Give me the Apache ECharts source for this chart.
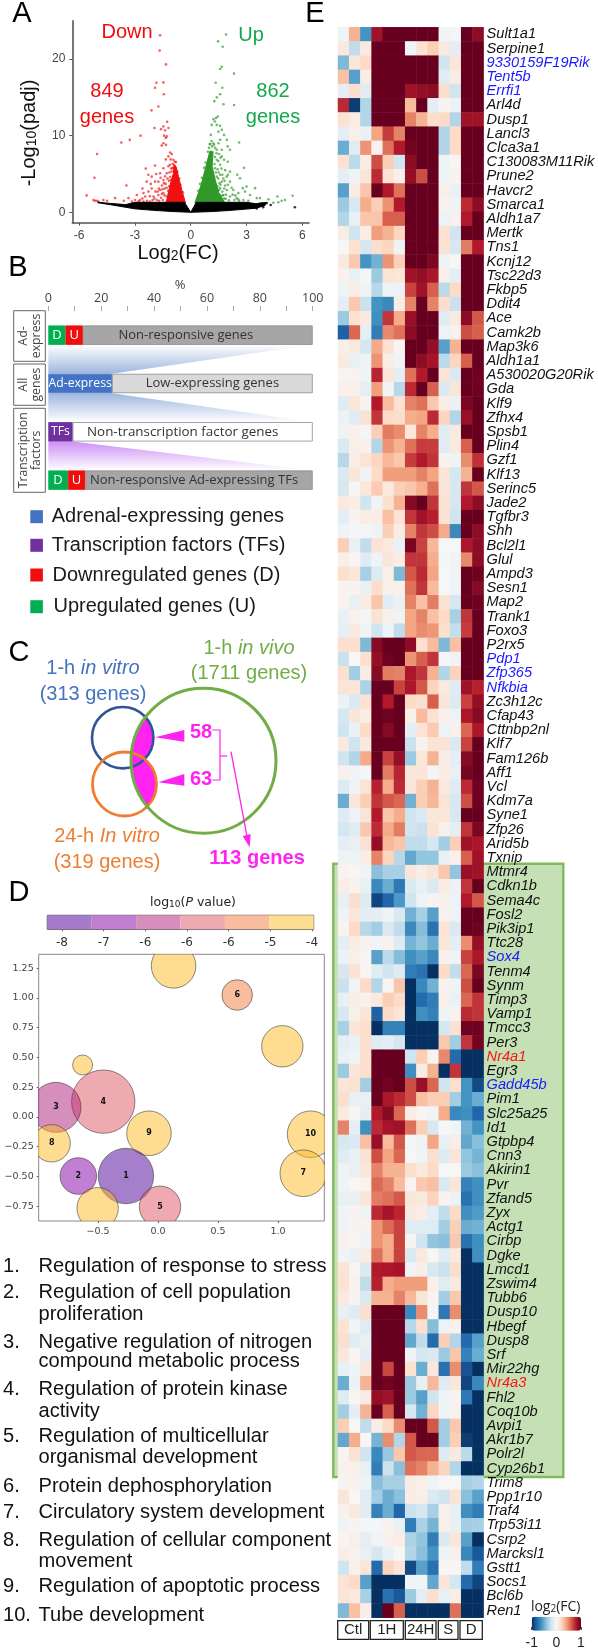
<!DOCTYPE html>
<html><head><meta charset="utf-8">
<style>html,body{margin:0;padding:0;background:#fff}#c{width:598px;height:1650px}</style>
<script src="https://cdn.jsdelivr.net/npm/echarts@6/dist/echarts.min.js"></script></head>
<body><div id="c"></div>
<script>
/* ---------- Panel A values ---------- */
const volRed=[[-1.65,23.1],[-1.67,21.1],[-1.33,19.3],[-1.47,16.95],[-1.85,16.9],[-1.92,16.25],[-1.45,15.4],[-1.74,13.8],[-2.11,13.3],[-1.27,11.8],[-1.95,11],[-1.47,11.2],[-1.6,10.85],[-1.38,10.7],[-1.2,11],[-1.43,10],[-1.29,9.9],[-1.34,9.7],[-2.7,10],[-3.28,9.45],[-3.73,9.1],[-1.47,9],[-1.33,8.8],[-1.56,8.7],[-5.04,7.6],[-5.18,4.5],[-5.6,2.2],[-3.46,3.5],[-2.42,5.7],[-1.92,6.1],[-1.86,5],[-1.11,7.8],[-1.02,7.6],[-1.2,7.3],[-1.08,6.9],[-.93,6.85],[-1.34,6.9],[-.97,6.3],[-1.2,6],[-1.47,5.75],[-1.65,5.1],[-1.29,5.1],[-2.1,4.65],[-2.28,4.9],[-1.92,4],[-2.37,4],[-1.74,4],[-1.47,4.2],[-2.1,3.1],[-1.65,2.9],[-2.28,2.7],[-2.54,2.5],[-2.9,2.25],[-2.72,1.6],[-2.45,2.05],[-2,2.05],[-1.74,2.25],[-1.47,2.5],[-1.29,2.05],[-3.35,1.85],[-3.17,1.4],[-4.07,1.85],[-4.7,1.6],[-4.5,1.5],[-5.23,1.6],[-5.15,1.5],[-5.05,1.5],[-4.96,1.4],[-1.83,1.6],[-2.19,1.4],[-3,1.6],[-2.54,1.4],[-1.4,3.1],[-1.55,3.5],[-1.35,3.7],[-1.25,4.4],[-1.15,5.2],[-1.1,4.6],[-1.6,1.9],[-1.9,2.7],[-1.55,2.4],[-2.2,2.1],[-1.38,4.7],[-1.12,6.2],[-1.05,5.7],[-1.72,3.1],[-2.6,1.8],[-3.6,1.5],[-2.05,1.6],[-1.03,5.3],[-1.18,4.1],[-1.3,3.2],[-1.41,2.2],[-1.22,2.8],[-1.16,3.4],[-1.08,4.2],[-.98,5.8],[-.86,6.6],[-.79,6.55],[-.72,5.3],[-.62,4.4],[-.55,3.6],[-.42,2.6],[-1.5,1.6],[-1.7,1.5],[-1.95,1.8],[-2.35,1.5],[-2.8,1.45],[-1.78,2.7],[-2.15,3.7],[-2.6,3.1],[-1.62,4.5],[-1.52,3],[-1.44,3.8]];
const volGreen=[[1.9,23.2],[1.47,22.3],[1.72,21.6],[1.67,19],[1.58,18.7],[2.33,18.1],[1.34,16.9],[1.7,16.25],[1.58,15.4],[1.4,15],[1.27,14.5],[1.76,14.1],[2.33,14],[1.45,12.5],[1.36,12.3],[1.22,12.15],[1.3,11.85],[1.13,11.4],[1.4,11.4],[1.58,11.3],[1.08,10.1],[1.67,10.75],[1.49,10.5],[1.79,10.1],[2.6,9.1],[1.94,9.45],[1.58,9.45],[2.11,8.15],[1.99,8.6],[2.87,5.8],[1.79,6.85],[1.99,6.6],[1.49,9],[1.22,9],[1.4,8.15],[1.67,8.15],[1.67,7.3],[1.4,6.85],[1.58,6.2],[1.85,5.5],[2.11,5.3],[2.5,4.9],[1.31,5.75],[1.58,4.9],[1.94,4.65],[1.4,4.65],[1.67,4],[2.11,4],[2.65,4.45],[3,3.35],[3.46,3.15],[2.8,3.15],[1.94,2.9],[1.58,3.15],[2.29,2.9],[2.56,2.5],[2.92,2.7],[3.19,2.25],[1.76,2.25],[2.11,2.05],[2.47,1.85],[1.22,2.5],[1.4,2.05],[1.58,1.6],[2.83,1.6],[3.55,1.85],[3.73,1.85],[4.18,1.7],[4.66,2.05],[5.48,2.15],[5.07,1.6],[4.89,1.5],[4.71,1.3],[4.44,1.25],[1.52,7.6],[1.3,7.2],[1.12,9.3],[1.05,8.9],[1.45,5.6],[1.75,4.4],[1.85,3.5],[2,3.6],[2.2,3.2],[2.4,2.2],[1.8,1.8],[2.05,1.55],[2.6,1.5],[3.1,1.5],[1.65,5.7],[1.55,3.8],[1.8,3.1],[2.35,1.6],[1.7,2.7],[1.48,6.7],[1.6,7.1],[1.28,6.3],[1.35,5.2],[1.48,4.4],[1.6,3.6],[1.72,2.2],[1.88,1.75],[1.25,8.8],[1.15,8.6],[1.32,8.4],[1.38,7.7],[.92,7.9],[.98,8.4],[1.02,8.9],[.8,6.5],[.72,5.8],[.6,4.5],[.5,3.7],[.4,2.8],[1.9,2.3],[2.25,2.3],[2.55,1.7],[1.6,2.2],[1.52,2.9],[1.44,3.4],[1.7,4.9],[1.82,4.1],[2,4.9],[1.5,5.2]];
const volBlack=[[5.6,.65],[3.9,.65],[3.55,.5],[4.09,1.2],[3.73,1.1],[3.3,.6],[4.3,.95],[3.85,1.15],[3.35,.95]];
const volPolygons=[
 {color:'#f01010',pts:[[-.28,1.2],[-.48,2.9],[-.66,4.66],[-.78,5.9],[-.9,6.3],[-.93,5.1],[-1.11,3.57],[-1.29,1.6],[-1.36,1.2]]},
 {color:'#2f9a2a',pts:[[.22,1.2],[.55,3.5],[.85,6.3],[1.03,8.0],[1.2,7.9],[1.15,6],[1.32,4.2],[1.5,2.6],[1.85,1.2]]},
 {color:'#000000',pts:[[-5,1.32],[-4.3,1.15],[-3.5,1.0],[-3,1.3],[-1.2,1.3],[-.34,1.3],[0,0],[.3,1.3],[3,1.3],[3.5,1.12],[4.05,1.28],[4,.9],[3.5,.52],[3,.42],[2,.22],[1,.08],[0,0],[-1,.1],[-2,.25],[-3,.45],[-4.3,.98],[-5,1.25]]}
];
const volTicksX=[-6,-3,0,3,6], volTicksY=[0,10,20];
/* ---------- Panel B values ---------- */
const bRows=['Ad-express','All genes','Transcription factors','TF response'];
const bSegRow=[0,0,0,1,1,2,2,3,3,3];
const bSegValue=[6.5,6.6,86.9,24.1,75.9,9.2,90.8,7.4,6.6,86];
const bSegLabel=['D','U','Non-responsive genes','Ad-express','Low-expressing genes','TFs','Non-transcription factor genes','D','U','Non-responsive Ad-expressing TFs'];
const bWedges=[{from:0,to:1,topEnd:100,botEnd:24.1},{from:1,to:2,topEnd:24.1,botEnd:100},{from:2,to:3,topEnd:9.2,botEnd:100}];
/* ---------- Panel D values ---------- */
const bubbleX=[.13,.66,1.036,-.628,-.456,-.85,-.886,-.075,-.267,-.664,.017,-.503,1.272,1.211];
const bubbleY=[1.27,1.025,.594,.437,.129,.081,-.221,-.137,-.496,-.496,-.754,-.767,-.145,-.473];
const bubbleR=[22.3,15.3,20.7,10,31.7,25,18.7,22.3,27.7,18.3,20.7,20.7,23.3,23.3];
const bubbleBand=[5,4,5,5,3,2,5,5,0,1,3,5,5,5];
const bubbleNum=['','6','','','4','3','8','9','1','2','5','','10','7'];
const pTickLabels=['-8','-7','-6','-6','-6','-5','-4'];
const pBands=[0,1,2,3,4,5];
const goTerms=[['1.','Regulation of response to stress',140],['2.','Regulation of cell population',218],['','proliferation',283],['3.','Negative regulation of nitrogen',368],['','compound metabolic process',425],['4.','Regulation of protein kinase',508],['','activity',573],['5.','Regulation of multicellular',650],['','organismal development',713],['6.','Protein dephosphorylation',798],['7.','Circulatory system development',877],['8.','Regulation of cellular component',960],['','movement',1023],['9.','Regulation of apoptotic process',1100],['10.','Tube development',1185]];
/* ---------- Panel E values ---------- */
const heatColumns=['C1','C2','C3','1H1','1H2','1H3','24H1','24H2','24H3','S1','S2','D1','D2'];
const heatGenes=['Sult1a1','Serpine1','9330159F19Rik','Tent5b','Errfi1','Arl4d','Dusp1','Lancl3','Clca3a1','C130083M11Rik','Prune2','Havcr2','Smarca1','Aldh1a7','Mertk','Tns1','Kcnj12','Tsc22d3','Fkbp5','Ddit4','Ace','Camk2b','Map3k6','Aldh1a1','A530020G20Rik','Gda','Klf9','Zfhx4','Spsb1','Plin4','Gzf1','Klf13','Serinc5','Jade2','Tgfbr3','Shh','Bcl2l1','Glul','Ampd3','Sesn1','Map2','Trank1','Foxo3','P2rx5','Pdp1','Zfp365','Nfkbia','Zc3h12c','Cfap43','Cttnbp2nl','Klf7','Fam126b','Aff1','Vcl','Kdm7a','Syne1','Zfp26','Arid5b','Txnip','Mtmr4','Cdkn1b','Sema4c','Fosl2','Pik3ip1','Ttc28','Sox4','Tenm4','Synm','Timp3','Vamp1','Tmcc3','Per3','Nr4a1','Egr3','Gadd45b','Pim1','Slc25a25','Id1','Gtpbp4','Cnn3','Akirin1','Pvr','Zfand5','Zyx','Actg1','Cirbp','Dgke','Lmcd1','Zswim4','Tubb6','Dusp10','Hbegf','Dusp8','Srf','Mir22hg','Nr4a3','Fhl2','Coq10b','Avpi1','Akr1b7','Polr2l','Cyp26b1','Trim8','Ppp1r10','Traf4','Trp53i11','Csrp2','Marcksl1','Gstt1','Socs1','Bcl6b','Ren1'];
const blueGenes=['9330159F19Rik','Tent5b','Errfi1','Pdp1','Zfp365','Nfkbia','Sox4','Gadd45b'];
const redGenes=['Nr4a1','Nr4a3'];
const heatValues=[
[-.05,.35,-.6,.85,1,1,1,1,1,-.03,-.02,1,.9],
[.1,-.25,.1,1,1,1,-.03,.15,.25,.1,-.1,1,1],
[-.45,.12,.2,1,1,1,1,1,1,-.2,.12,1,1],
[.3,-.55,.08,1,1,1,1,1,1,-.12,.08,1,1],
[-.1,.18,-.12,1,1,1,.85,.88,.9,.18,-.2,1,1],
[.75,-.95,-.3,1,1,1,.32,1,-.1,.03,-.06,1,1],
[.15,.08,-.3,1,1,1,.5,.35,.18,.2,-.3,.85,.85],
[-.1,.06,-.07,.4,.7,.5,1,1,1,-.3,.2,1,1],
[-.5,-.12,.45,.04,.55,.8,.97,1,1,-.3,.2,1,1],
[.15,-.27,.08,.65,.25,-.2,.9,1,1,-.05,.02,1,1],
[-.1,-.05,.13,.75,.15,.05,.88,.65,1,-.05,.03,1,1],
[-.55,.08,.28,1,.8,.55,1,1,1,.06,-.07,1,1],
[-.37,-.17,.37,.25,.45,.8,1,1,1,.04,-.05,.75,.9],
[-.3,-.08,.28,.28,.6,.6,1,1,1,-.06,.04,.8,1],
[.08,-.2,.07,.42,.35,.22,1,1,1,.15,-.2,1,1],
[.01,.15,-.18,.18,.22,-.05,1,1,1,.15,-.17,.52,.8],
[.1,.27,-.6,-.48,.45,.24,1,1,.95,-.05,.02,1,1],
[.04,-.07,-.02,-.37,.14,.12,.85,.88,.82,.06,-.1,1,1],
[-.05,.07,-.05,-.28,-.05,-.06,.68,.85,.6,-.27,.2,1,1],
[-.1,.27,-.22,-.6,-.65,.07,.5,1,.5,.18,-.22,1,1],
[-.37,.15,.1,-.62,.72,.38,.87,1,1,-.12,.1,.9,.62],
[-.82,.58,-.1,-.7,.48,.55,.9,1,1,-.06,.04,.65,.6],
[.06,.1,-.18,.38,.15,.03,1,1,.88,-.55,.35,1,1],
[.1,-.08,-.05,.45,.07,-.03,1,.9,.83,-.27,.22,.6,1],
[.02,.03,-.05,.77,.12,-.1,.55,.8,1,.14,-.15,1,.98],
[.05,.05,-.1,.42,-.03,-.28,.75,1,.6,-.15,.13,1,.98],
[-.12,.12,.03,.8,.32,.15,.5,.55,.27,.07,-.07,.95,1],
[-.06,-.12,.15,.72,.2,.18,.37,.4,.75,.22,-.3,.87,1],
[-.05,.05,-.02,.25,.52,.47,.12,.5,.37,-.12,.1,1,1],
[-.15,.06,.05,-.3,.45,.35,.55,.7,.7,-.12,.1,.6,1],
[-.28,.07,.13,.22,.33,.27,.7,.8,.72,.03,-.05,.47,.73],
[-.15,.13,-.04,.2,.42,.42,.42,.5,.4,.13,-.18,.35,1],
[-.17,.01,.12,.26,.1,.24,.28,.36,.55,.13,-.17,.72,.62],
[.1,.07,-.2,-.04,.16,.35,.92,1,.72,.15,-.18,.8,.9],
[-.1,.03,.07,.07,.3,.14,.72,.85,.78,.15,-.2,1,1],
[-.04,-.02,-.02,-.05,.24,.08,.5,.72,.65,.38,-.65,1,.9],
[.25,-.08,-.25,.15,.1,-.07,.95,.68,.33,-.01,-.01,.82,.9],
[.06,.02,-.12,-.05,.13,.07,.72,.72,.37,-.02,-.04,.48,.9],
[.17,.12,-.33,-.13,.06,-.45,.62,.75,.4,-.01,-.03,1,.98],
[.03,.03,-.07,.18,.06,.05,.55,.72,.32,-.01,-.03,1,.92],
[.03,-.08,.08,.28,-.12,-.07,.5,.3,.52,.15,-.18,1,.98],
[-.07,.04,-.02,.14,.06,-.04,.4,.5,.3,.2,-.33,.72,1],
[-.09,.1,-.04,-.2,-.05,-.25,.4,.47,.44,.16,-.24,.7,1],
[.17,.17,-.45,.92,1,1,.9,.17,.32,-.45,.3,1,1],
[-.22,.01,.17,.88,.98,1,.45,.6,.72,-.02,-.04,1,1],
[.17,-.35,.08,.92,.52,.5,.82,.72,.35,-.3,.23,1,1],
[.14,.13,-.32,1,1,.68,.82,.62,.23,.1,-.12,.85,.78],
[-.06,-.15,.15,1,.8,1,.2,.17,.6,.13,-.14,.68,.88],
[-.18,.13,.07,1,.98,1,.06,.32,.15,.05,-.06,.82,.92],
[-.2,-.07,.2,1,.92,1,-.1,.14,.26,-.06,.04,.58,.82],
[.1,-.2,.1,1,1,1,-.22,.04,.14,.14,-.15,.68,1],
[-.2,-.3,.38,1,.68,.88,-.37,.12,.35,.08,-.1,.92,1],
[.05,-.03,-.02,1,.52,.77,.12,.13,-.02,.08,-.08,.96,1],
[-.14,-.04,.14,.78,.37,.75,.13,.25,.35,.1,-.12,.75,.98],
[-.5,.12,.25,.72,.62,.58,-.48,.25,.33,.14,-.17,.65,.98],
[-.13,-.06,.14,.8,.28,.37,-.2,-.15,.12,.12,-.17,1,1],
[-.18,-.12,.27,.75,.38,.52,-.2,-.22,.15,.05,-.1,.72,.95],
[-.1,-.08,.15,.88,.33,.28,-.25,-.25,-.18,-.35,.25,.85,.82],
[-.05,-.05,.07,.5,.22,-.28,-.52,-.4,-.4,-.08,.05,.6,.85],
[.03,.01,-.04,-.42,-.33,-.33,.13,.07,.13,.27,-.4,.87,.85],
[.07,.04,-.08,-.65,-.5,-.72,-.15,-.08,-.15,.08,-.06,.72,1],
[-.08,.18,-.12,-.92,-.8,-.58,-.2,-.05,.03,.05,-.06,.8,.62],
[-.05,.12,-.1,-.1,-.05,-.15,-.48,-.33,-.55,.04,-.06,1,1],
[.03,.2,-.28,-.35,-.15,-.25,-.65,-.43,-.75,.14,-.15,1,.98],
[-.1,.08,.03,-.03,.04,-.13,-.47,-.4,-.5,.12,-.1,.47,.88],
[-.06,.06,.01,-.55,-.27,-.43,-.62,-.55,-.65,.05,-.05,.68,.82],
[-.17,.15,.02,-.12,-.2,-.13,-.7,-.75,-1,.2,-.25,.58,.95],
[-.22,-.03,.2,-.3,.02,.28,-1,-.65,-.48,.03,-.05,.65,1],
[-.08,.07,.04,.1,.25,.2,-1,-.78,-.7,.06,-.07,.58,.72],
[-.17,.06,.13,-.82,.2,.13,-1,-.62,-.68,-.05,.04,.75,.72],
[-.33,.13,.17,-1,-.68,-.68,-1,-1,-1,-.18,.15,.98,.98],
[-.1,-.07,.17,-.12,-.1,-.18,-1,-1,-1,.27,-.35,.72,.97],
[-.07,-.05,.16,1,1,1,-.2,.25,.03,.48,-.78,-1,-1],
[-.37,.13,.17,1,1,1,-.62,.08,.35,-1,.72,-1,-1],
[.13,.15,-.35,1,.97,1,.65,.87,.58,-.2,.17,-.6,-.9],
[.18,-.08,-.08,1,.82,.75,.65,.3,.25,.25,-.35,-.6,-.5],
[.1,.02,-.1,.8,.92,.58,.07,.02,-.03,.37,-.65,-.62,-.8],
[.5,-.1,-.62,.75,.83,.85,.55,.25,-.17,-.01,-.03,-.48,-.6],
[-.17,-.15,.3,.87,.32,.62,-.02,-.04,.4,-.08,.07,-.52,-.42],
[-.12,-.07,.15,.65,.4,.58,-.01,-.03,.17,-.13,.13,-.4,-.47],
[-.05,-.08,.12,.5,.35,.35,.17,.1,.2,-.01,.01,-.37,-.42],
[-.05,.01,.03,.57,.5,.32,.03,.27,.3,-.15,.13,-.68,-.62],
[-.08,-.08,.13,.52,.55,.62,.12,.1,.23,.03,-.06,-.75,-.62],
[-.03,.03,-.05,.75,.83,.76,.1,.07,-.1,-.25,.2,-.62,-.57],
[-.05,.03,.03,.45,.57,.68,-.12,-.12,-.12,-.35,.24,-.5,-.48],
[.04,.02,-.05,.45,.37,.68,.03,-.2,-.4,-.42,.27,-.75,-.62],
[-.03,-.07,.08,.55,.38,.68,-.15,.1,.01,-.12,.1,-1,-.62],
[.14,.02,-.14,.8,.82,.83,-.03,.06,-.17,-.22,.18,-1,-1],
[.15,.04,-.25,.78,.37,.42,.42,.42,.06,-.12,.1,-1,-1],
[.1,.03,-.15,.35,.35,.5,.33,.13,.03,-.35,.27,-1,-1],
[-.08,-.12,.17,1,1,1,-.65,.47,-.02,-.72,.47,-1,-1],
[.15,-.03,-.12,1,1,1,-.28,.17,-.43,-.06,.04,-1,-1],
[.17,-.12,-.08,1,1,1,-.52,-.25,-.78,.24,-.3,-.78,-.55],
[.12,.02,-.1,1,1,1,-.04,-.18,-.15,-.37,.28,-.68,-.5],
[-.08,-.05,.12,1,.67,1,.15,-.5,.12,-.75,.47,-.87,-1],
[-.5,-.06,.35,1,.97,1,-.37,-.08,.33,-.12,.12,-.92,-.65],
[-.12,.02,.08,.88,.85,1,-.37,-.55,-.2,-.05,.03,-.72,-1],
[-.35,-.1,.35,1,.6,1,-.18,-.48,.22,-.05,.04,-1,-1],
[.25,.01,-.25,.07,.2,.47,1,1,.62,-.35,.27,-1,-1],
[-.52,.37,.01,-.47,.47,-.3,.62,1,1,-.35,.25,-.95,-1],
[.03,.15,-.2,-.65,-.38,.27,.62,.58,.58,-.13,.1,-.27,-1],
[.04,.05,-.08,-.7,-.22,-.42,.55,.5,.35,.22,-.3,-1,-1],
[.03,.04,-.05,-.42,-.33,-.33,.08,.06,-.05,.01,.01,-.33,-.3],
[.13,.01,-.12,-.35,-.5,-.42,.08,.06,-.15,-.2,.14,-.42,-.55],
[.04,.1,-.12,-.68,-.5,-.8,-.22,-.18,-.33,.05,-.08,-.62,-.7],
[-.04,.03,-.02,-.02,.04,-.07,-.7,-.32,-.47,.06,-.08,-.35,-.33],
[.02,.06,-.1,-.03,.05,.07,-.32,-.4,-.7,-.15,.12,-.55,-1],
[.06,.04,-.08,-.18,-.07,.01,-.3,-.42,-.6,-.05,.05,-.65,-.85],
[-.2,.05,.13,-.78,.22,.13,-.9,-.55,-.75,.01,.01,-.25,-.7],
[.14,.2,-.55,-1,-1,-1,-.03,-.03,-.52,.13,-.18,-.78,-.92],
[.13,.1,-.33,-1,-.75,-.85,-.37,-.1,.17,-.08,.07,-1,-1],
[-.45,.3,.06,-1,1,.6,-1,-1,-1,-1,.55,-1,-1]
];

/* ---------- Styles ---------- */
const SANS='"Liberation Sans",Arial,sans-serif', DJ='"DejaVu Sans",sans-serif', OS='"Open Sans",sans-serif';
const bSegColor=['#00b050','#f00d0d','#a6a6a6','#4472c4','#d9d9d9','#7030a0','#ffffff','#00b050','#f00d0d','#a6a6a6'];
const bSegText=['#fff','#fff','#333','#fff','#333','#fff','#333','#fff','#fff','#333'];
const bSegShift=[0,0,-12,0,0,0,-10,0,0,-5];
const bSegFont=[13,13,13,12.2,13,12.2,13.4,13,13,13];
const bWedgeColor=['#9db6df','#9db6df','#cc8ff5'];
const bubbleBase=['77,0,151','129,0,161','173,31,121','221,85,97','241,123,61','253,185,37'];
const bandSolid=['#a67bcb','#c07ed0','#d68fbc','#eeaab0','#f8bd9e','#fedc92'];
const RdBu=['#053061','#2166ac','#4393c3','#92c5de','#d1e5f0','#f7f7f7','#fddbc7','#f4a582','#d6604d','#b2182b','#67001f'];

const T=(x,y,text,o={})=>({type:'text',x,y,z:o.z||10,rotation:o.rot||0,style:{text,font:o.font||`${o.w||'normal'} ${o.s||20}px ${o.f||SANS}`,fill:o.c||'#111',align:o.a||'center',verticalAlign:'middle',rich:o.rich}});
const G=[];
/* panel letters */
[['A',22,14],['B',18,268],['C',19,653],['D',19,893],['E',315,14]].forEach(p=>G.push(T(p[1],p[2],p[0],{s:29,c:'#000'})));
/* panel A text */
const rd='#f20c0c', gr='#12a84b';
G.push(T(127,32,'Down',{c:rd}),T(251,35,'Up',{c:gr}),T(107,91,'849',{c:rd}),T(107,117,'genes',{c:rd}),T(273,91,'862',{c:gr}),T(273,117,'genes',{c:gr}));
G.push(T(29,133,'-Log{s|10}(padj)',{s:20,rot:Math.PI/2,rich:{s:{fontSize:14,fontFamily:'Liberation Sans',verticalAlign:'bottom',fill:'#111'}}}));
G.push(T(178,253,'Log{s|2}(FC)',{s:20,rich:{s:{fontSize:14,fontFamily:'Liberation Sans',verticalAlign:'bottom',fill:'#111'}}}));
/* panel B boxes */
[[310.7,361.3,['Ad-','express']],[364,405.3,['All','genes']],[408.3,492.3,['Transcription','factors']]].forEach(b=>{
 G.push({type:'rect',shape:{x:13.7,y:b[0],width:31.6,height:b[1]-b[0]},style:{fill:'#fff',stroke:'#666',lineWidth:1},z:5});
 const my=(b[0]+b[1])/2;
 G.push(T(23.5,my,b[2][0],{s:12.3,f:OS,c:'#444',rot:Math.PI/2}),T(36.3,my,b[2][1],{s:12.3,f:OS,c:'#444',rot:Math.PI/2}));
});
G.push(T(180,285,'%',{s:13,f:OS,c:'#444'}));
/* panel B legend */
[[516.7,'#4472c4','Adrenal-expressing genes',51.7],[545.3,'#7030a0','Transcription factors (TFs)',51.7],[575,'#f00d0d','Downregulated genes (D)',52.5],[606.7,'#00b050','Upregulated genes (U)',53.5]].forEach(l=>{
 G.push({type:'rect',shape:{x:30.3,y:l[0]-6.5,width:12.6,height:13},style:{fill:l[1]},z:5});
 G.push(T(l[3],l[0],l[2],{s:20,a:'left',c:'#1a1a1a'}));
});
/* panel C */
const cBlue={x:122.7,y:737.7,r:30.7}, cOrange={x:124.5,y:784,r:32}, cGreen={x:203.5,y:760.7,r:72.5};
function lens(a,b){const d=Math.hypot(b.x-a.x,b.y-a.y),th=Math.atan2(b.y-a.y,b.x-a.x),da=Math.acos((d*d+a.r*a.r-b.r*b.r)/(2*d*a.r)),ph=th+Math.PI,eb=Math.acos((d*d+b.r*b.r-a.r*a.r)/(2*d*b.r)),pts=[];
 for(let i=0;i<=40;i++){const t=th-da+2*da*i/40;pts.push([a.x+a.r*Math.cos(t),a.y+a.r*Math.sin(t)]);}
 for(let i=0;i<=40;i++){const t=ph-eb+2*eb*i/40;pts.push([b.x+b.r*Math.cos(t),b.y+b.r*Math.sin(t)]);}
 return pts;}
const mg='#ff22f0';
G.push({type:'polygon',shape:{points:lens(cBlue,cGreen)},style:{fill:mg},z:3},{type:'polygon',shape:{points:lens(cOrange,cGreen)},style:{fill:mg},z:3});
[[cBlue,'#2f5597',2.6],[cOrange,'#ed7d31',2.8],[cGreen,'#70ad47',3]].forEach(c=>G.push({type:'circle',shape:{cx:c[0].x,cy:c[0].y,r:c[0].r},style:{fill:'none',stroke:c[1],lineWidth:c[2]},z:4}));
const Z=(zx,zy)=>[zx/3,630+zy/3];
G.push({type:'polygon',shape:{points:[Z(465,322),Z(553,300),Z(553,335)]},style:{fill:mg},z:5},{type:'polygon',shape:{points:[Z(475,457),Z(553,432),Z(553,467)]},style:{fill:mg},z:5});
G.push({type:'polyline',shape:{points:[Z(637,300),Z(660,300),Z(660,450),Z(637,450)]},style:{fill:'none',stroke:mg,lineWidth:1.2},z:5},{type:'polyline',shape:{points:[Z(660,378),Z(682,378)]},style:{stroke:mg,lineWidth:1.2,fill:'none'},z:5},{type:'polyline',shape:{points:[Z(693,365),Z(745,640)]},style:{stroke:mg,lineWidth:1.3,fill:'none'},z:5},{type:'polygon',shape:{points:[Z(749,652),Z(728,618),Z(752,612)]},style:{fill:mg},z:5});
G.push(T(201,732,'58',{w:'bold',c:mg}),T(201,779,'63',{w:'bold',c:mg}),T(257,858,'113 genes',{w:'bold',c:mg}));
const it=c=>({i:{fontStyle:'italic',fontSize:20,fontFamily:'Liberation Sans',fill:c}});
G.push(T(93,668,'1-h {i|in vitro}',{c:'#4472c4',rich:it('#4472c4')}),T(93,694,'(313 genes)',{c:'#4472c4'}));
G.push(T(249,648,'1-h {i|in vivo}',{c:'#70ad47',rich:it('#70ad47')}),T(249,673,'(1711 genes)',{c:'#70ad47'}));
G.push(T(107,836,'24-h {i|In vitro}',{c:'#ed7d31',rich:it('#ed7d31')}),T(107,862,'(319 genes)',{c:'#ed7d31'}));
/* panel D title */
G.push(T(193,903,'log{s|10}({i|P} value)',{s:12.5,f:DJ,c:'#222',rich:{s:{fontSize:9,fontFamily:'DejaVu Sans',verticalAlign:'bottom',fill:'#222'},i:{fontSize:12.5,fontStyle:'italic',fontFamily:'DejaVu Sans',fill:'#222'}}}));
/* GO list */
goTerms.forEach(t=>{const y=1220+t[2]/3;if(t[0])G.push(T(3,y,t[0],{s:20.1,a:'left'}));G.push(T(38.5,y,t[1],{s:20.1,a:'left'}));});
/* panel E */
G.push({type:'rect',z:-1,shape:{x:333.3,y:863.7,width:230,height:613.3},style:{fill:'#c5e0b4',stroke:'#7fba5f',lineWidth:2.4}});
[[337.7,368.7,'Ctl'],[370.3,403.3,'1H'],[405.3,436,'24H'],[438.3,458,'S'],[460,482.3,'D']].forEach(b=>{
 G.push({type:'rect',shape:{x:b[0],y:1620.7,width:b[1]-b[0],height:18.6},style:{fill:'#fff',stroke:'#222',lineWidth:1.3},z:5});
 G.push(T((b[0]+b[1])/2,1630.3,b[2],{s:15,c:'#222'}));
});
G.push(T(555.7,1606.7,'log{s|2}(FC)',{s:14,f:OS,c:'#222',rich:{s:{fontSize:10,fontFamily:'Open Sans',verticalAlign:'bottom',fill:'#222'}}}));

/* ---------- grids ---------- */
const grids=[
 {left:72.3,top:20.7,width:236.7,height:202},
 {left:48.3,top:311,width:264.4,height:193.3},
 {left:47.3,top:915.3,width:266.4,height:14,show:true,borderColor:'#444',borderWidth:1,backgroundColor:'transparent'},
 {left:38.7,top:954.3,width:285.6,height:266.7,show:true,borderColor:'#888',borderWidth:1},
 {left:338,top:27.3,width:145.6,height:1590.4},
 {left:531.7,top:1616.7,width:49.3,height:14}
];
const axLine={lineStyle:{color:'#555',width:1.6}};
const noLine={show:false,onZero:false};
const xAxes=[
 {gridIndex:0,type:'value',min:-6.37,max:6.36,splitLine:{show:false},axisLine:{onZero:false,...axLine},axisTick:{show:true,length:3,lineStyle:{color:'#555'},customValues:volTicksX},axisLabel:{customValues:volTicksX,fontSize:12,color:'#444',fontFamily:SANS,margin:7}},
 {gridIndex:1,type:'value',position:'top',min:0,max:100,interval:20,splitLine:{show:false},axisLine:{onZero:false,lineStyle:{color:'#bbb',width:1.4}},axisTick:{show:true,length:5,lineStyle:{color:'#aaa'}},minorTick:{show:true,splitNumber:2,length:5,lineStyle:{color:'#aaa'}},axisLabel:{fontSize:12.5,color:'#444',fontFamily:OS,margin:6,hideOverlap:false,showMinLabel:true,showMaxLabel:true}},
 {gridIndex:2,type:'value',position:'bottom',min:-.353,max:6.04,splitLine:{show:false},axisLine:noLine,axisTick:{show:true,length:2,inside:false,lineStyle:{color:'#666'},customValues:[0,1,2,3,4,5,6]},axisLabel:{customValues:[0,1,2,3,4,5,6],formatter:v=>pTickLabels[Math.round(v)],fontSize:12,color:'#333',fontFamily:DJ,margin:8}},
 {gridIndex:3,type:'value',position:'bottom',min:-.994,max:1.386,splitLine:{show:false},axisLine:noLine,axisTick:{show:true,length:2,lineStyle:{color:'#666'},customValues:[-.5,0,.5,1]},axisLabel:{customValues:[-.5,0,.5,1],formatter:v=>v.toFixed(1).replace('-','\u2212'),fontSize:9.5,color:'#444',fontFamily:DJ,margin:6}},
 {gridIndex:4,type:'category',data:heatColumns,show:false},
 {gridIndex:5,type:'value',position:'bottom',min:-1,max:1,interval:1,splitLine:{show:false},axisLine:noLine,axisTick:{show:true,inside:true,length:3,lineStyle:{color:'#555'}},axisLabel:{fontSize:14,color:'#222',fontFamily:SANS,margin:6,showMinLabel:true,showMaxLabel:true}}
];
const dYTicks=[-.75,-.5,-.25,0,.25,.5,.75,1,1.25];
const yAxes=[
 {gridIndex:0,type:'value',min:-1.36,max:25,splitLine:{show:false},axisLine:{show:true,onZero:false,...axLine},axisTick:{show:true,length:3,lineStyle:{color:'#555'},customValues:volTicksY},axisLabel:{customValues:volTicksY,fontSize:12,color:'#444',fontFamily:SANS,margin:7}},
 {gridIndex:1,type:'category',data:bRows,inverse:true,show:false},
 {gridIndex:2,type:'value',min:0,max:1,show:false},
 {gridIndex:3,type:'value',position:'left',min:-.874,max:1.367,splitLine:{show:false},axisLine:noLine,axisTick:{show:true,length:2,lineStyle:{color:'#666'},customValues:dYTicks},axisLabel:{customValues:dYTicks,formatter:v=>v.toFixed(2).replace('-','\u2212'),fontSize:9.5,color:'#444',fontFamily:DJ,margin:5}},
 {gridIndex:4,type:'category',data:heatGenes,inverse:true,position:'right',axisLine:{show:false},axisTick:{show:false},splitLine:{show:false},axisLabel:{interval:0,margin:3,fontSize:14.6,fontStyle:'italic',fontFamily:SANS,color:g=>blueGenes.includes(g)?'#1a1aff':redGenes.includes(g)?'#ff1414':'#111'}},
 {gridIndex:5,type:'value',min:0,max:1,show:false}
];
/* ---------- series ---------- */
const series=[];
/* A */
const sc=(data,color,z)=>({type:'scatter',xAxisIndex:0,yAxisIndex:0,data,symbolSize:2.6,z,silent:true,itemStyle:{color}});
series.push(sc(volRed,'rgba(240,20,20,.85)',3),sc(volGreen,'rgba(47,154,42,.85)',3),sc(volBlack,'#000',5));
series.push({type:'custom',xAxisIndex:0,yAxisIndex:0,z:4,silent:true,data:volPolygons.map((p,i)=>[i]),encode:{x:[],y:[]},
 renderItem:(p,api)=>{const v=volPolygons[p.dataIndex];return{type:'polygon',shape:{points:v.pts.map(q=>api.coord(q))},style:{fill:v.color,stroke:v.color,lineWidth:1}};}});
/* B wedges */
const halfBar=9.7;
series.push({type:'custom',xAxisIndex:1,yAxisIndex:1,z:1,silent:true,data:bWedges.map((w,i)=>[i]),encode:{x:[],y:[]},
 renderItem:(p,api)=>{const w=bWedges[p.dataIndex],x0=api.coord([0,w.from])[0],y1=api.coord([0,w.from])[1]+halfBar,y2=api.coord([0,w.to])[1]-halfBar,xt=api.coord([w.topEnd,w.from])[0],xb=api.coord([w.botEnd,w.from])[0],c=bWedgeColor[p.dataIndex],desc=w.botEnd>w.topEnd;
 return{type:'polygon',shape:{points:[[x0,y1],[xt,y1],[xb,y2],[x0,y2]]},style:{fill:new echarts.graphic.LinearGradient(0,0,0,1,desc?[{offset:0,color:c},{offset:1,color:'#ffffff'}]:[{offset:0,color:'#ffffff'},{offset:1,color:c}])}};}});
/* B bars */
bSegValue.forEach((v,i)=>{const d=bRows.map((_,r)=>r===bSegRow[i]?v:null);
 series.push({type:'bar',xAxisIndex:1,yAxisIndex:1,stack:'b',barWidth:19.4,z:3,silent:true,data:d,itemStyle:{color:bSegColor[i],borderColor:i<2||i==3||i==5||i==7||i==8?bSegColor[i]:'#8c8c8c',borderWidth:.8},
  label:{show:true,position:'inside',formatter:bSegLabel[i],fontFamily:OS,fontSize:bSegFont[i],color:bSegText[i],offset:[bSegShift[i],0]}});});
/* D colour bar */
series.push({type:'custom',xAxisIndex:2,yAxisIndex:2,silent:true,z:2,data:pBands.map(b=>[b]),encode:{x:[],y:[]},
 renderItem:(p,api)=>{const n=pBands.length,i=p.dataIndex,a=-.353,b=6.04,x1=a+(b-a)*i/n,x2=a+(b-a)*(i+1)/n,s=api.coord([x1,1]),e=api.coord([x2,0]);return{type:'rect',shape:{x:s[0],y:s[1],width:e[0]-s[0],height:e[1]-s[1]},style:{fill:bandSolid[i]}};}});
/* D bubbles: clipped to the frame like the reference */
series.push({type:'custom',xAxisIndex:3,yAxisIndex:3,clip:true,silent:true,z:3,
 data:bubbleX.map((x,i)=>[x,bubbleY[i]]),encode:{x:0,y:1},
 renderItem:(p,api)=>{const i=p.dataIndex,c=api.coord([api.value(0),api.value(1)]);
  return{type:'group',children:[
   {type:'circle',shape:{cx:c[0],cy:c[1],r:bubbleR[i]},style:{fill:`rgba(${bubbleBase[bubbleBand[i]]},.5)`,stroke:'rgba(50,50,50,.55)',lineWidth:1}},
   {type:'text',x:c[0],y:c[1],style:{text:bubbleNum[i],font:`bold 8px ${DJ}`,fill:'#111',align:'center',verticalAlign:'middle'}}]};}});
/* E heatmap */
const cells=[];heatValues.forEach((r,y)=>r.forEach((v,x)=>cells.push([x,y,v])));
series.push({type:'heatmap',xAxisIndex:4,yAxisIndex:4,data:cells,progressive:0,silent:true,z:3,itemStyle:{borderWidth:0}});
/* E colour-bar axis carrier */
series.push({type:'scatter',xAxisIndex:5,yAxisIndex:5,data:[],silent:true});

const chart=echarts.init(document.getElementById('c'),null,{renderer:'canvas'});
chart.setOption({animation:false,backgroundColor:'#fff',textStyle:{fontFamily:SANS},grid:grids,xAxis:xAxes,yAxis:yAxes,series,graphic:{elements:G},
 visualMap:[{type:'continuous',seriesIndex:series.findIndex(s=>s.type==='heatmap'),min:-1,max:1,calculable:false,orient:'horizontal',left:531.7,top:1616.7,itemWidth:14,itemHeight:49.3,padding:0,text:['',''],showLabel:false,inRange:{color:RdBu},hoverLink:false,realtime:false,z:2}]});
</script></body></html>
